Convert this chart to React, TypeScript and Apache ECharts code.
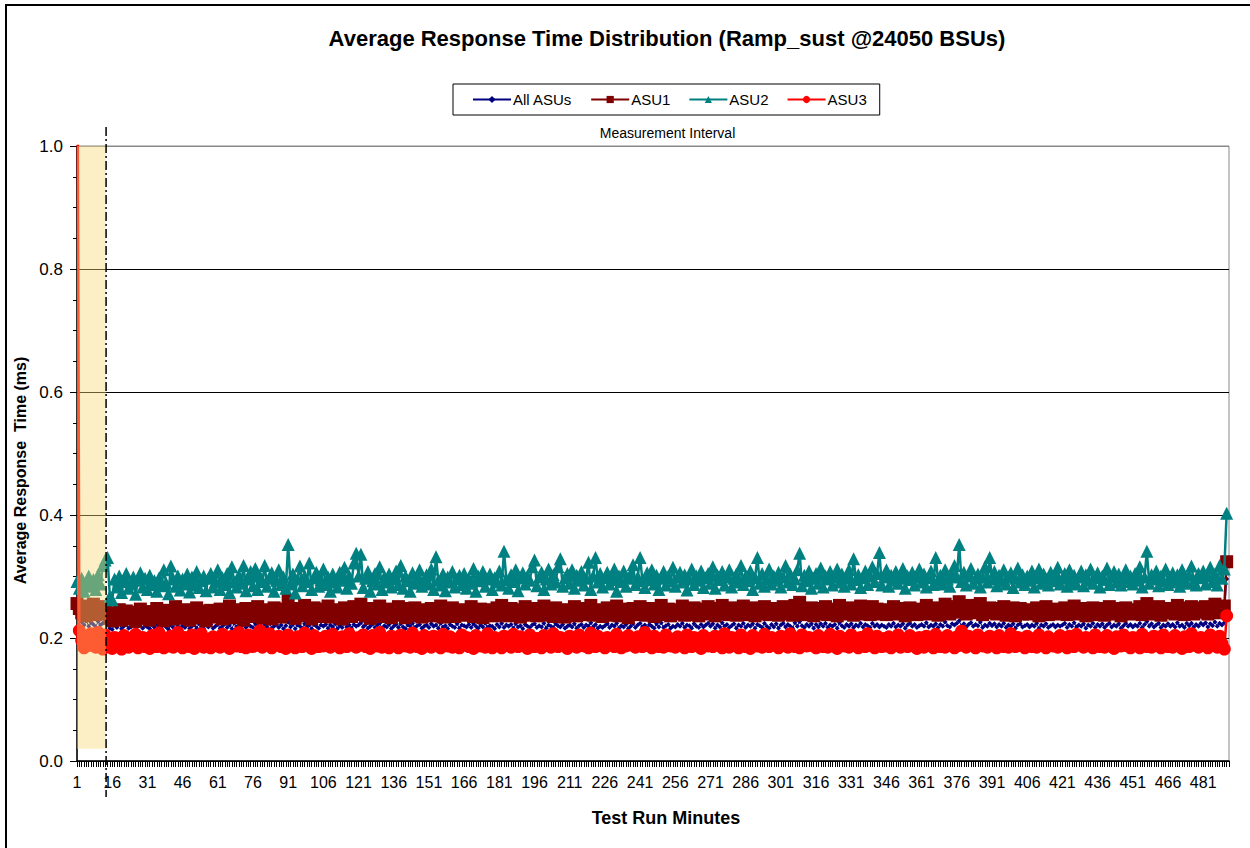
import React, { useEffect, useRef } from "react";
import * as echarts from "echarts";

const TITLE = "Average Response Time Distribution (Ramp_sust @24050 BSUs)";
const SERIES_NAMES = ["All ASUs", "ASU1", "ASU2", "ASU3"];
const SERIES_COLORS = ["#000080", "#800000", "#008080", "#FF0000"];
const Y_TICKS = [0, 0.2, 0.4, 0.6, 0.8, 1.0];
const LABEL_STEP = 15;
// ramp-up band: minutes (0-based offset) and lower value
const RAMP_END = 12.4;
const RAMP_BOTTOM = 0.02;

const ALL_ASUS = [
  0.248,0.231,0.226,0.221,0.228,0.219,0.225,0.222,0.218,0.227,0.221,0.224,0.226,0.223,0.216,
  0.214,0.221,0.217,0.223,0.215,0.219,0.222,0.216,0.218,0.221,0.214,0.219,0.223,0.216,0.22,
  0.218,0.215,0.221,0.217,0.222,0.219,0.216,0.223,0.218,0.214,0.221,0.217,0.224,0.219,0.216,
  0.22,0.217,0.222,0.215,0.219,0.221,0.216,0.223,0.218,0.215,0.221,0.218,0.222,0.216,0.219,
  0.222,0.216,0.219,0.223,0.217,0.221,0.215,0.224,0.218,0.22,0.216,0.222,0.217,0.221,0.219,
  0.217,0.223,0.219,0.222,0.215,0.221,0.218,0.224,0.216,0.219,0.222,0.217,0.221,0.215,0.22,
  0.226,0.218,0.222,0.215,0.221,0.219,0.216,0.223,0.218,0.221,0.215,0.222,0.219,0.216,0.221,
  0.219,0.222,0.216,0.221,0.218,0.223,0.215,0.22,0.217,0.224,0.218,0.221,0.216,0.222,0.219,
  0.221,0.225,0.218,0.222,0.216,0.219,0.223,0.217,0.221,0.224,0.216,0.22,0.218,0.222,0.215,
  0.219,0.222,0.217,0.223,0.218,0.215,0.221,0.219,0.224,0.217,0.22,0.222,0.216,0.219,0.221,
  0.217,0.223,0.219,0.221,0.216,0.224,0.218,0.22,0.215,0.222,0.219,0.217,0.223,0.216,0.221,
  0.22,0.218,0.222,0.217,0.223,0.219,0.216,0.221,0.218,0.224,0.217,0.22,0.219,0.215,0.222,
  0.218,0.224,0.217,0.221,0.219,0.222,0.216,0.223,0.218,0.22,0.215,0.222,0.219,0.217,0.221,
  0.223,0.217,0.22,0.218,0.224,0.216,0.221,0.219,0.217,0.223,0.22,0.218,0.222,0.216,0.219,
  0.221,0.218,0.223,0.216,0.22,0.222,0.217,0.221,0.219,0.225,0.218,0.222,0.216,0.219,0.217,
  0.22,0.223,0.217,0.221,0.219,0.224,0.216,0.22,0.218,0.222,0.215,0.219,0.223,0.217,0.221,
  0.224,0.218,0.221,0.217,0.222,0.219,0.216,0.223,0.218,0.225,0.217,0.22,0.222,0.216,0.219,
  0.218,0.222,0.219,0.224,0.217,0.221,0.22,0.216,0.223,0.219,0.217,0.222,0.218,0.221,0.224,
  0.219,0.223,0.216,0.221,0.218,0.225,0.219,0.222,0.217,0.22,0.223,0.216,0.221,0.219,0.224,
  0.217,0.221,0.219,0.223,0.216,0.222,0.22,0.217,0.224,0.219,0.216,0.222,0.218,0.223,0.216,
  0.221,0.224,0.218,0.222,0.219,0.216,0.225,0.219,0.227,0.22,0.217,0.222,0.219,0.223,0.216,
  0.222,0.218,0.223,0.219,0.224,0.217,0.221,0.219,0.222,0.216,0.225,0.22,0.217,0.222,0.219,
  0.223,0.217,0.221,0.219,0.224,0.218,0.222,0.22,0.217,0.224,0.219,0.222,0.218,0.221,0.219,
  0.217,0.222,0.219,0.224,0.218,0.221,0.219,0.223,0.216,0.221,0.224,0.219,0.222,0.217,0.22,
  0.222,0.219,0.225,0.218,0.221,0.219,0.223,0.217,0.222,0.219,0.226,0.22,0.218,0.223,0.221,
  0.224,0.228,0.219,0.223,0.218,0.222,0.225,0.219,0.222,0.22,0.226,0.217,0.221,0.219,0.224,
  0.22,0.223,0.218,0.222,0.219,0.224,0.217,0.221,0.219,0.223,0.216,0.221,0.223,0.218,0.22,
  0.222,0.218,0.221,0.219,0.224,0.216,0.221,0.219,0.223,0.217,0.22,0.222,0.218,0.221,0.219,
  0.221,0.224,0.217,0.222,0.219,0.225,0.218,0.221,0.219,0.223,0.216,0.221,0.219,0.224,0.217,
  0.222,0.219,0.223,0.217,0.221,0.224,0.218,0.221,0.219,0.223,0.216,0.22,0.224,0.219,0.222,
  0.218,0.221,0.219,0.224,0.217,0.222,0.227,0.219,0.223,0.218,0.221,0.224,0.217,0.221,0.219,
  0.223,0.219,0.222,0.218,0.225,0.219,0.221,0.217,0.224,0.22,0.224,0.218,0.222,0.219,0.224,
  0.221,0.225,0.218,0.223,0.22,0.226,0.219,0.224,0.221,0.225,0.296,
];

const ASU1 = [
  0.256,0.248,0.241,0.252,0.236,0.247,0.243,0.255,0.238,0.249,0.244,0.251,0.246,0.239,0.232,
  0.228,0.241,0.233,0.246,0.229,0.238,0.244,0.231,0.236,0.242,0.227,0.239,0.247,0.232,0.237,
  0.243,0.229,0.238,0.233,0.248,0.236,0.241,0.228,0.245,0.234,0.239,0.231,0.251,0.237,0.243,
  0.232,0.246,0.238,0.229,0.241,0.236,0.249,0.233,0.239,0.244,0.228,0.237,0.245,0.234,0.241,
  0.238,0.247,0.231,0.243,0.236,0.252,0.239,0.233,0.246,0.237,0.242,0.229,0.248,0.235,0.241,
  0.244,0.236,0.251,0.239,0.233,0.246,0.238,0.243,0.231,0.249,0.236,0.241,0.234,0.247,0.239,
  0.261,0.238,0.245,0.232,0.248,0.236,0.242,0.253,0.237,0.244,0.231,0.249,0.238,0.243,0.235,
  0.247,0.239,0.252,0.234,0.241,0.246,0.237,0.243,0.231,0.249,0.238,0.244,0.235,0.251,0.242,
  0.238,0.255,0.243,0.236,0.248,0.232,0.241,0.246,0.239,0.252,0.235,0.243,0.238,0.247,0.233,
  0.244,0.237,0.251,0.239,0.245,0.233,0.248,0.241,0.236,0.249,0.238,0.243,0.234,0.246,0.239,
  0.241,0.248,0.236,0.243,0.239,0.252,0.234,0.245,0.238,0.241,0.249,0.235,0.243,0.238,0.246,
  0.237,0.244,0.239,0.251,0.235,0.242,0.238,0.247,0.233,0.241,0.246,0.239,0.243,0.236,0.249,
  0.241,0.253,0.238,0.245,0.236,0.248,0.241,0.239,0.246,0.234,0.243,0.251,0.237,0.244,0.239,
  0.248,0.236,0.243,0.239,0.252,0.237,0.245,0.241,0.235,0.249,0.243,0.238,0.246,0.234,0.242,
  0.245,0.239,0.251,0.236,0.243,0.248,0.238,0.244,0.241,0.253,0.237,0.246,0.239,0.242,0.235,
  0.243,0.249,0.237,0.245,0.241,0.252,0.236,0.244,0.239,0.247,0.233,0.242,0.248,0.238,0.245,
  0.251,0.239,0.244,0.237,0.248,0.242,0.235,0.246,0.241,0.253,0.238,0.243,0.247,0.236,0.244,
  0.239,0.246,0.241,0.252,0.237,0.245,0.243,0.238,0.249,0.241,0.236,0.247,0.243,0.239,0.251,
  0.242,0.248,0.236,0.244,0.239,0.253,0.241,0.246,0.238,0.243,0.249,0.237,0.245,0.241,0.252,
  0.238,0.245,0.241,0.249,0.236,0.247,0.243,0.239,0.251,0.242,0.238,0.246,0.241,0.248,0.237,
  0.244,0.251,0.239,0.246,0.242,0.237,0.253,0.241,0.258,0.243,0.238,0.247,0.241,0.249,0.236,
  0.245,0.239,0.248,0.242,0.251,0.238,0.244,0.241,0.247,0.236,0.253,0.243,0.239,0.246,0.241,
  0.249,0.237,0.245,0.241,0.252,0.239,0.246,0.243,0.238,0.251,0.242,0.247,0.239,0.244,0.241,
  0.238,0.246,0.242,0.251,0.239,0.245,0.241,0.248,0.236,0.244,0.249,0.241,0.246,0.238,0.243,
  0.247,0.241,0.253,0.239,0.245,0.242,0.249,0.237,0.246,0.241,0.255,0.243,0.239,0.248,0.244,
  0.251,0.259,0.242,0.248,0.239,0.246,0.253,0.241,0.247,0.243,0.256,0.238,0.245,0.241,0.249,
  0.243,0.248,0.239,0.246,0.242,0.251,0.237,0.245,0.241,0.249,0.236,0.244,0.248,0.239,0.243,
  0.246,0.239,0.244,0.241,0.249,0.236,0.245,0.242,0.251,0.238,0.243,0.247,0.239,0.245,0.241,
  0.244,0.249,0.238,0.246,0.241,0.252,0.239,0.244,0.241,0.248,0.236,0.245,0.242,0.249,0.238,
  0.246,0.241,0.248,0.237,0.244,0.251,0.239,0.245,0.242,0.248,0.236,0.243,0.249,0.241,0.246,
  0.239,0.245,0.242,0.251,0.238,0.246,0.256,0.241,0.248,0.239,0.244,0.251,0.237,0.245,0.241,
  0.248,0.242,0.246,0.239,0.253,0.241,0.245,0.238,0.249,0.243,0.251,0.239,0.246,0.242,0.249,
  0.244,0.251,0.239,0.247,0.243,0.255,0.241,0.249,0.245,0.252,0.324,
];

const ASU2 = [
  0.292,0.281,0.297,0.276,0.289,0.301,0.284,0.295,0.279,0.303,0.288,0.318,0.327,0.331,0.268,
  0.262,0.296,0.283,0.301,0.274,0.292,0.305,0.281,0.288,0.299,0.271,0.294,0.306,0.283,0.297,
  0.279,0.302,0.287,0.293,0.276,0.298,0.285,0.311,0.289,0.272,0.317,0.296,0.284,0.301,0.278,
  0.296,0.288,0.304,0.275,0.299,0.286,0.308,0.282,0.293,0.301,0.277,0.297,0.305,0.283,0.292,
  0.311,0.279,0.298,0.287,0.305,0.274,0.316,0.291,0.283,0.302,0.289,0.318,0.277,0.296,0.308,
  0.285,0.313,0.279,0.301,0.292,0.318,0.284,0.297,0.306,0.276,0.294,0.311,0.287,0.299,0.281,
  0.352,0.288,0.304,0.273,0.296,0.317,0.285,0.301,0.292,0.322,0.279,0.298,0.307,0.284,0.295,
  0.312,0.287,0.299,0.276,0.304,0.291,0.283,0.307,0.294,0.315,0.281,0.301,0.289,0.322,0.338,
  0.301,0.336,0.282,0.297,0.308,0.276,0.293,0.305,0.288,0.316,0.279,0.299,0.291,0.304,0.283,
  0.296,0.309,0.287,0.318,0.281,0.301,0.293,0.276,0.306,0.289,0.298,0.311,0.284,0.295,0.303,
  0.288,0.312,0.279,0.332,0.294,0.286,0.304,0.277,0.299,0.291,0.308,0.283,0.296,0.302,0.287,
  0.305,0.281,0.297,0.289,0.313,0.276,0.301,0.293,0.308,0.284,0.296,0.304,0.279,0.298,0.291,
  0.309,0.286,0.341,0.295,0.281,0.303,0.292,0.311,0.277,0.298,0.306,0.288,0.301,0.294,0.316,
  0.327,0.285,0.299,0.307,0.279,0.296,0.312,0.288,0.303,0.291,0.316,0.329,0.284,0.298,0.305,
  0.289,0.311,0.281,0.302,0.294,0.308,0.286,0.297,0.323,0.279,0.301,0.331,0.291,0.305,0.283,
  0.298,0.307,0.288,0.295,0.312,0.276,0.301,0.292,0.309,0.284,0.297,0.304,0.319,0.287,0.299,
  0.331,0.293,0.282,0.306,0.295,0.311,0.288,0.302,0.279,0.297,0.308,0.286,0.301,0.293,0.315,
  0.284,0.299,0.307,0.291,0.303,0.278,0.296,0.312,0.287,0.301,0.294,0.309,0.282,0.298,0.305,
  0.289,0.316,0.281,0.302,0.295,0.308,0.286,0.299,0.311,0.283,0.297,0.304,0.291,0.318,0.287,
  0.301,0.293,0.309,0.279,0.298,0.331,0.289,0.305,0.284,0.296,0.312,0.288,0.301,0.294,0.307,
  0.283,0.299,0.318,0.291,0.304,0.287,0.296,0.311,0.338,0.285,0.302,0.293,0.309,0.281,0.297,
  0.305,0.289,0.314,0.283,0.301,0.296,0.308,0.286,0.299,0.312,0.291,0.304,0.284,0.297,0.311,
  0.288,0.329,0.295,0.303,0.282,0.298,0.309,0.287,0.301,0.316,0.292,0.305,0.339,0.286,0.299,
  0.311,0.284,0.302,0.294,0.308,0.289,0.297,0.313,0.281,0.301,0.295,0.307,0.286,0.299,0.312,
  0.291,0.304,0.283,0.298,0.309,0.287,0.331,0.294,0.302,0.288,0.311,0.296,0.284,0.305,0.318,
  0.299,0.352,0.292,0.307,0.286,0.301,0.313,0.289,0.297,0.304,0.283,0.299,0.316,0.291,0.331,
  0.296,0.308,0.285,0.302,0.293,0.311,0.288,0.299,0.306,0.282,0.297,0.314,0.291,0.303,0.287,
  0.301,0.294,0.309,0.283,0.298,0.312,0.289,0.304,0.296,0.286,0.307,0.293,0.301,0.315,0.288,
  0.297,0.305,0.284,0.311,0.292,0.302,0.288,0.299,0.309,0.285,0.303,0.294,0.312,0.289,0.298,
  0.306,0.283,0.301,0.295,0.314,0.287,0.299,0.308,0.291,0.304,0.286,0.297,0.311,0.292,0.301,
  0.288,0.305,0.294,0.316,0.283,0.299,0.341,0.289,0.303,0.296,0.309,0.285,0.301,0.293,0.312,
  0.287,0.298,0.306,0.291,0.303,0.284,0.311,0.296,0.289,0.302,0.317,0.293,0.286,0.305,0.298,
  0.309,0.288,0.301,0.315,0.292,0.304,0.286,0.318,0.297,0.312,0.403,
];

const ASU3 = [
  1.48,0.212,0.196,0.184,0.203,0.188,0.207,0.191,0.185,0.209,0.194,0.182,0.205,0.189,0.198,
  0.183,0.201,0.187,0.196,0.182,0.204,0.191,0.185,0.199,0.188,0.206,0.184,0.193,0.201,0.186,
  0.197,0.183,0.204,0.189,0.186,0.208,0.191,0.184,0.199,0.187,0.203,0.185,0.194,0.209,0.188,
  0.184,0.201,0.192,0.186,0.205,0.183,0.196,0.189,0.207,0.185,0.198,0.191,0.184,0.202,0.188,
  0.195,0.185,0.206,0.189,0.199,0.183,0.203,0.192,0.187,0.209,0.186,0.197,0.184,0.205,0.191,
  0.186,0.204,0.189,0.212,0.185,0.198,0.191,0.207,0.184,0.196,0.189,0.203,0.186,0.199,0.183,
  0.205,0.188,0.197,0.184,0.202,0.191,0.186,0.208,0.189,0.195,0.183,0.204,0.192,0.186,0.199,
  0.187,0.203,0.191,0.185,0.206,0.189,0.198,0.184,0.202,0.193,0.186,0.207,0.189,0.196,0.185,
  0.201,0.189,0.205,0.186,0.197,0.183,0.204,0.191,0.187,0.209,0.185,0.198,0.192,0.184,0.203,
  0.188,0.196,0.184,0.205,0.191,0.187,0.201,0.185,0.208,0.192,0.186,0.199,0.183,0.204,0.189,
  0.197,0.185,0.203,0.189,0.194,0.184,0.206,0.191,0.187,0.202,0.185,0.198,0.191,0.184,0.205,
  0.189,0.201,0.186,0.196,0.183,0.204,0.192,0.187,0.199,0.185,0.207,0.191,0.184,0.201,0.188,
  0.195,0.184,0.203,0.189,0.198,0.185,0.206,0.191,0.186,0.202,0.188,0.197,0.183,0.205,0.191,
  0.186,0.199,0.191,0.184,0.204,0.188,0.196,0.185,0.207,0.192,0.186,0.201,0.189,0.195,0.183,
  0.203,0.189,0.197,0.185,0.205,0.191,0.187,0.199,0.184,0.208,0.192,0.186,0.203,0.188,0.196,
  0.184,0.201,0.189,0.195,0.186,0.206,0.191,0.184,0.199,0.187,0.204,0.189,0.196,0.185,0.202,
  0.191,0.186,0.209,0.188,0.197,0.184,0.203,0.192,0.186,0.199,0.185,0.205,0.191,0.187,0.198,
  0.185,0.202,0.189,0.196,0.184,0.205,0.191,0.186,0.201,0.188,0.197,0.183,0.204,0.192,0.187,
  0.199,0.186,0.203,0.189,0.195,0.184,0.207,0.191,0.185,0.201,0.188,0.196,0.184,0.205,0.191,
  0.186,0.198,0.183,0.204,0.191,0.187,0.199,0.185,0.206,0.192,0.186,0.201,0.189,0.195,0.184,
  0.203,0.189,0.196,0.185,0.207,0.191,0.186,0.199,0.184,0.205,0.192,0.187,0.201,0.188,0.197,
  0.184,0.204,0.191,0.186,0.198,0.185,0.206,0.189,0.195,0.183,0.203,0.191,0.187,0.199,0.185,
  0.205,0.189,0.196,0.184,0.201,0.191,0.186,0.207,0.188,0.197,0.184,0.203,0.192,0.186,0.199,
  0.187,0.202,0.184,0.196,0.189,0.205,0.185,0.198,0.191,0.186,0.204,0.188,0.195,0.183,0.201,
  0.191,0.185,0.203,0.189,0.197,0.184,0.206,0.192,0.186,0.199,0.185,0.204,0.189,0.196,0.184,
  0.202,0.188,0.211,0.191,0.185,0.203,0.189,0.196,0.184,0.205,0.191,0.187,0.199,0.185,0.203,
  0.189,0.196,0.184,0.204,0.191,0.186,0.198,0.185,0.207,0.192,0.186,0.201,0.188,0.195,0.184,
  0.203,0.191,0.186,0.199,0.185,0.205,0.189,0.196,0.184,0.202,0.191,0.187,0.198,0.185,0.204,
  0.188,0.197,0.184,0.203,0.191,0.186,0.206,0.189,0.195,0.185,0.201,0.188,0.197,0.184,0.205,
  0.191,0.186,0.199,0.185,0.204,0.189,0.196,0.183,0.202,0.191,0.187,0.205,0.188,0.196,0.184,
  0.201,0.189,0.195,0.184,0.206,0.191,0.186,0.199,0.185,0.203,0.189,0.196,0.184,0.205,0.191,
  0.186,0.198,0.185,0.204,0.189,0.195,0.183,0.202,0.191,0.186,0.207,0.189,0.197,0.185,0.201,
  0.188,0.196,0.184,0.205,0.189,0.197,0.185,0.203,0.191,0.182,0.236,
];

const SERIES_VALUES = [ALL_ASUS, ASU1, ASU2, ASU3];
const SYMBOLS = ["diamond", "rect", "triangle", "circle"];
const SYMBOL_SIZES = [5, 13, 13, 13];

const FONT = '"Liberation Sans", Arial, sans-serif';

export default function App() {
  const ref = useRef<HTMLDivElement>(null);

  useEffect(() => {
    if (!ref.current) return;
    const chart = echarts.init(ref.current, null, { renderer: "svg" });
    const maxX = ASU2.length; // minute offset at right plot edge

    const option: any = {
      animation: false,
      backgroundColor: "#ffffff",
      textStyle: { fontFamily: FONT },
      title: {
        text: TITLE,
        left: 662,
        textAlign: "center",
        top: 22,
        textStyle: { fontFamily: FONT, fontSize: 22, fontWeight: "bold", color: "#000" },
      },
      legend: {
        data: SERIES_NAMES.map((name, k) => ({
          name,
          itemStyle: { color: SERIES_COLORS[k] },
        })),
        left: 453,
        top: 84,
        orient: "horizontal",
        borderColor: "#000",
        borderWidth: 1,
        padding: [8, 13, 8, 19],
        itemGap: 18,
        itemWidth: 38,
        itemHeight: 9,
        textStyle: { fontFamily: FONT, fontSize: 15, color: "#000", padding: [0, 0, 0, -3] },
      },
      grid: {
        left: 77,
        top: 146,
        width: 1152,
        height: 615,
        show: true,
        borderColor: "#888",
        borderWidth: 1,
        backgroundColor: "transparent",
      },
      xAxis: {
        type: "value",
        min: 0,
        max: maxX,
        interval: LABEL_STEP,
        name: "Test Run Minutes",
        nameLocation: "middle",
        nameGap: 48,
        nameTextStyle: {
          fontFamily: FONT,
          fontSize: 18,
          fontWeight: "bold",
          color: "#000",
          padding: [0, 0, 0, 26],
        },
        axisLine: { show: true, lineStyle: { color: "#000", width: 1.5 } },
        axisTick: { show: true, length: 6, lineStyle: { color: "#000" } },
        minorTick: { show: true, splitNumber: LABEL_STEP, length: 6, lineStyle: { color: "#000" } },
        splitLine: { show: false },
        axisLabel: {
          fontFamily: FONT,
          fontSize: 16,
          color: "#000",
          margin: 13,
          showMaxLabel: false,
          formatter: (v: number) =>
            v % LABEL_STEP === 0 && v <= maxX - 10 ? String(v + 1) : "",
        },
      },
      yAxis: {
        type: "value",
        min: 0,
        max: 1,
        interval: 0.2,
        name: "Average Response  Time (ms)",
        nameLocation: "middle",
        nameGap: 49,
        nameTextStyle: {
          fontFamily: FONT,
          fontSize: 16,
          fontWeight: "bold",
          color: "#000",
          padding: [0, 34, 0, 0],
        },
        axisLine: { show: true, lineStyle: { color: "#000", width: 1.5 } },
        axisTick: { show: true, length: 7, lineStyle: { color: "#000" } },
        minorTick: { show: true, splitNumber: 4, length: 4, lineStyle: { color: "#000" } },
        splitLine: {
          show: true,
          lineStyle: { color: ["#000", "#000", "#000", "#000", "#000", "#888"], width: 1 },
        },
        axisLabel: {
          fontFamily: FONT,
          fontSize: 17,
          color: "#000",
          margin: 14,
          formatter: (v: number) => v.toFixed(1),
        },
      },
      series: SERIES_NAMES.map((name, k) => ({
        name,
        type: "line",
        data: SERIES_VALUES[k].map((v, i) => [i, v]),
        symbol: SYMBOLS[k],
        symbolSize: SYMBOL_SIZES[k],
        showSymbol: true,
        clip: true,
        color: SERIES_COLORS[k],
        lineStyle: { color: SERIES_COLORS[k], width: k === 0 ? 1 : 2.5 },
        itemStyle: { color: SERIES_COLORS[k] },
        z: 2 + k,
      })),
    };

    chart.setOption(option);

    const [xr0, yTop] = chart.convertToPixel({ gridIndex: 0 }, [0, Y_TICKS[Y_TICKS.length - 1]]);
    const [xr1, yBot] = chart.convertToPixel({ gridIndex: 0 }, [RAMP_END, RAMP_BOTTOM]);
    const [xRight, yZero] = chart.convertToPixel({ gridIndex: 0 }, [maxX, 0]);

    chart.setOption({
      graphic: [
        {
          type: "rect",
          z: 100,
          silent: true,
          shape: { x: xr0, y: yTop, width: xr1 - xr0, height: yBot - yTop },
          style: { fill: "rgba(250,217,117,0.42)" },
        },
        {
          type: "line",
          z: 101,
          silent: true,
          shape: { x1: xr1, y1: yTop - 19, x2: xr1, y2: yZero + 36 },
          style: { stroke: "#000", lineWidth: 1.5, lineDash: [9, 3, 2, 3] },
        },
        {
          type: "text",
          z: 101,
          silent: true,
          x: (xr1 + xRight) / 2,
          y: yTop - 13,
          style: {
            text: "Measurement Interval",
            fontFamily: FONT,
            fontSize: 14,
            fill: "#000",
            align: "center",
            verticalAlign: "middle",
          },
        },
        {
          type: "rect",
          z: 100,
          silent: true,
          shape: { x: 6, y: 5, width: 1300, height: 900 },
          style: { fill: "none", stroke: "#000", lineWidth: 2 },
        },
      ],
    });

    return () => chart.dispose();
  }, []);

  return (
    <div
      ref={ref}
      style={{ position: "absolute", left: 0, top: 0, width: 1250, height: 848 }}
    />
  );
}
